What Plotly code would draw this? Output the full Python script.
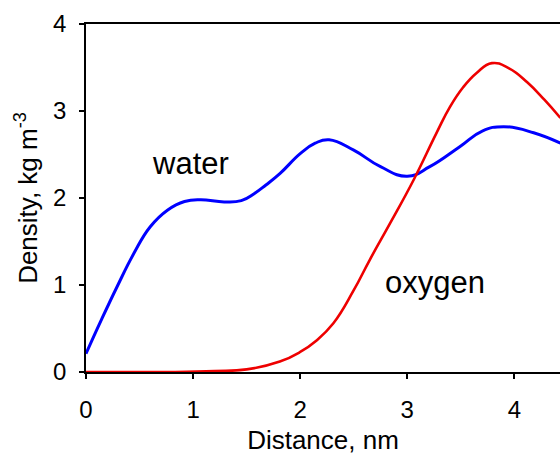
import plotly.graph_objects as go

# Distance (nm) and density (kg m^-3)
water_x = [0, 0.14, 0.29, 0.45, 0.60, 0.76, 0.92, 1.07, 1.29, 1.45, 1.57, 1.68, 1.81, 2.0,
           2.14, 2.27, 2.5, 2.75, 3.0, 3.21, 3.49, 3.7, 3.9, 4.18, 4.43]
water_y = [0.21, 0.59, 0.98, 1.37, 1.67, 1.86, 1.96, 1.98, 1.955, 1.97, 2.05, 2.15, 2.28, 2.51,
           2.63, 2.67, 2.55, 2.36, 2.25, 2.36, 2.59, 2.77, 2.82, 2.75, 2.63]

oxygen_x = [0, 0.4, 0.8, 1.2, 1.5, 1.81, 2.0, 2.15, 2.31, 2.5, 2.65, 2.84, 3.06, 3.27, 3.4,
            3.52, 3.65, 3.79, 3.95, 4.12, 4.28, 4.43]
oxygen_y = [0, 0.0, 0.0, 0.01, 0.03, 0.12, 0.23, 0.36, 0.56, 0.94, 1.29, 1.71, 2.21, 2.74, 3.05,
            3.27, 3.44, 3.55, 3.49, 3.33, 3.13, 2.92]

labels = ["water", "oxygen"]
label_x = [0.98, 3.26]
label_y = [2.40, 1.03]

x_ticks = [0, 1, 2, 3, 4]
y_ticks = [0, 1, 2, 3, 4]

FONT = "Arial, Liberation Sans, sans-serif"

fig = go.Figure()
fig.add_trace(go.Scatter(x=water_x, y=water_y, mode="lines",
                         line=dict(color="#0000ff", width=3, shape="spline", smoothing=1.3),
                         showlegend=False, hoverinfo="skip"))
fig.add_trace(go.Scatter(x=oxygen_x, y=oxygen_y, mode="lines",
                         line=dict(color="#ee0000", width=2.6, shape="spline", smoothing=1.3),
                         showlegend=False, hoverinfo="skip"))

for t, xx, yy in zip(labels, label_x, label_y):
    fig.add_annotation(x=xx, y=yy, xref="x", yref="y", text=t, showarrow=False,
                       font=dict(family=FONT, size=31, color="black"),
                       xanchor="center", yanchor="middle")

fig.update_layout(
    width=560, height=455,
    margin=dict(l=86, r=0, t=24, b=83),
    paper_bgcolor="white", plot_bgcolor="white",
    font=dict(family=FONT, color="black"),
)
fig.update_xaxes(
    range=[0, 4.426], tickvals=x_ticks, ticktext=[str(v) for v in x_ticks],
    showgrid=False, zeroline=False, showline=True, linecolor="black", linewidth=1.5,
    mirror=True, ticks="outside", ticklen=5, tickcolor="black", tickwidth=1.5,
    tickfont=dict(family=FONT, size=24, color="black"), ticklabelstandoff=10,
    title=dict(text="Distance, nm", font=dict(family=FONT, size=26, color="black"), standoff=14),
)
fig.update_yaxes(
    range=[0, 4], tickvals=y_ticks, ticktext=[str(v) for v in y_ticks],
    showgrid=False, zeroline=False, showline=True, linecolor="black", linewidth=1.5,
    mirror=False, ticks="outside", ticklen=5, tickcolor="black", tickwidth=1.5,
    tickfont=dict(family=FONT, size=24, color="black"), ticklabelstandoff=8,
    title=dict(text="Density, kg m<sup>-3</sup>", font=dict(family=FONT, size=26, color="black"), standoff=8),
)

fig.write_html("out.html")
